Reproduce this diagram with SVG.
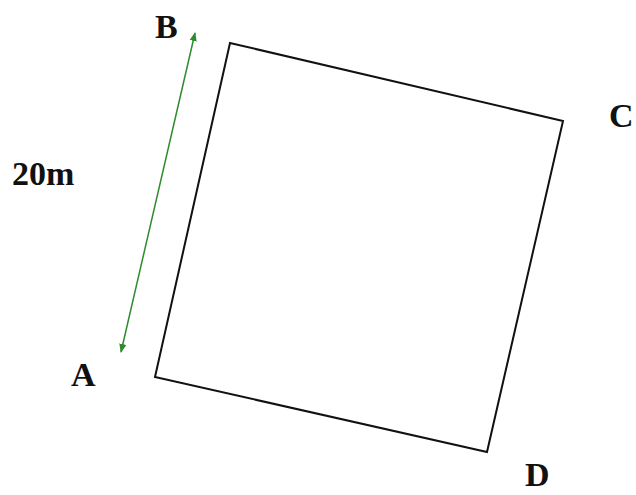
<svg xmlns="http://www.w3.org/2000/svg" width="636" height="495" viewBox="0 0 636 495">
<style>
.lbl{font-family:"Liberation Serif","Times New Roman",serif;font-weight:bold;font-size:34px;fill:#111}
.edge{stroke:#111;stroke-width:2;fill:none}
.dim{stroke:#2e8b2e;stroke-width:1.5;fill:none}
</style>
<defs>
<marker id="ah" viewBox="0 0 10 10" refX="9" refY="5" markerWidth="9" markerHeight="9" orient="auto-start-reverse" markerUnits="userSpaceOnUse">
<path d="M0,1 L10,5 L0,9 z" fill="#2e8b2e"/>
</marker>
</defs>
<rect width="636" height="495" fill="#fff"/>
<g id="square">
<polygon class="edge" points="230,43 563,121 487,452 155,377"/>
</g>
<g id="connectors">
<line class="dim" x1="195" y1="33" x2="121" y2="352" marker-start="url(#ah)" marker-end="url(#ah)"/>
</g>
<g id="labels">
<text class="lbl" x="155" y="38">B</text>
<text class="lbl" x="609" y="127">C</text>
<text class="lbl" x="71" y="386">A</text>
<text class="lbl" x="525" y="486">D</text>
<text class="lbl" x="12" y="185">20m</text>
</g>
</svg>
